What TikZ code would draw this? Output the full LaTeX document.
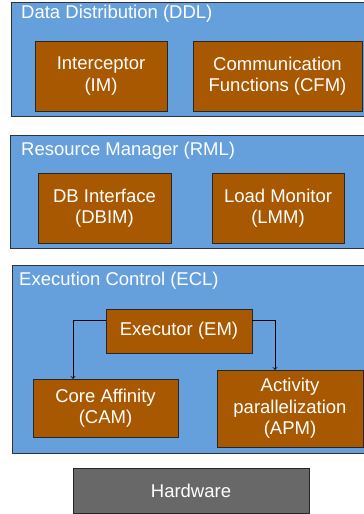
\documentclass[tikz,border=0pt]{standalone}
\usepackage{fontspec}
\setmainfont{Liberation Sans}
\usepackage{xcolor}
\usetikzlibrary{shapes,arrows,positioning}

\definecolor{layerblue}{RGB}{101,160,220}
\definecolor{modbrown}{RGB}{168,88,0}
\definecolor{hwgray}{RGB}{104,104,104}

\tikzset{
  layer/.style={draw=black!80, fill=layerblue, inner sep=0pt},
  module/.style={draw=black!85, fill=modbrown, text=white, align=center, inner sep=0pt, font=\fontsize{18.5}{21.5}\selectfont},
  title/.style={anchor=west, text=white, inner sep=0pt, font=\fontsize{18.5}{21.5}\selectfont}
}

\begin{document}
\begin{tikzpicture}[x=1pt, y=-1pt]
    \useasboundingbox (0,0) rectangle (364,514);
    % layers
    \node[layer, minimum width=359pt, minimum height=114pt] (ddl) at (190.5,59) {};
    \node[layer, minimum width=360pt, minimum height=113pt] (rml) at (190,191.5) {};
    \node[layer, minimum width=358pt, minimum height=188pt] (ecl) at (191,359) {};
    \node[title] (ddltitle) at (21,14) {Data Distribution (DDL)};
    \node[title] (rmltitle) at (21,151) {Resource Manager (RML)};
    \node[title] (ecltitle) at (19,281) {Execution Control (ECL)};
    % modules
    \node[module, minimum width=132pt, minimum height=70pt] (im) at (101,76) {Interceptor\\(IM)};
    \node[module, minimum width=169pt, minimum height=70pt] (cfm) at (277.5,76) {Communication\\Functions (CFM)};
    \node[module, minimum width=133pt, minimum height=70pt] (dbim) at (104.5,208) {DB Interface\\(DBIM)};
    \node[module, minimum width=132pt, minimum height=70pt] (lmm) at (278,208) {Load Monitor\\(LMM)};
    \node[module, minimum width=146pt, minimum height=44pt] (em) at (179,331) {Executor (EM)};
    \node[module, minimum width=145pt, minimum height=58pt] (cam) at (105.5,408) {Core Affinity\\(CAM)};
    \node[module, minimum width=146pt, minimum height=77pt] (apm) at (290,408.5) {Activity\\parallelization\\(APM)};
    \node[module, fill=hwgray, minimum width=236pt, minimum height=45pt] (hw) at (191,490.5) {Hardware};
    % executor links
    \draw[->, thick] ([yshift=11pt]em.west) -| ([xshift=-32.5pt]cam.north);
    \draw[->, thick] ([yshift=11pt]em.east) -| ([xshift=-15pt]apm.north);
\end{tikzpicture}
\end{document}
